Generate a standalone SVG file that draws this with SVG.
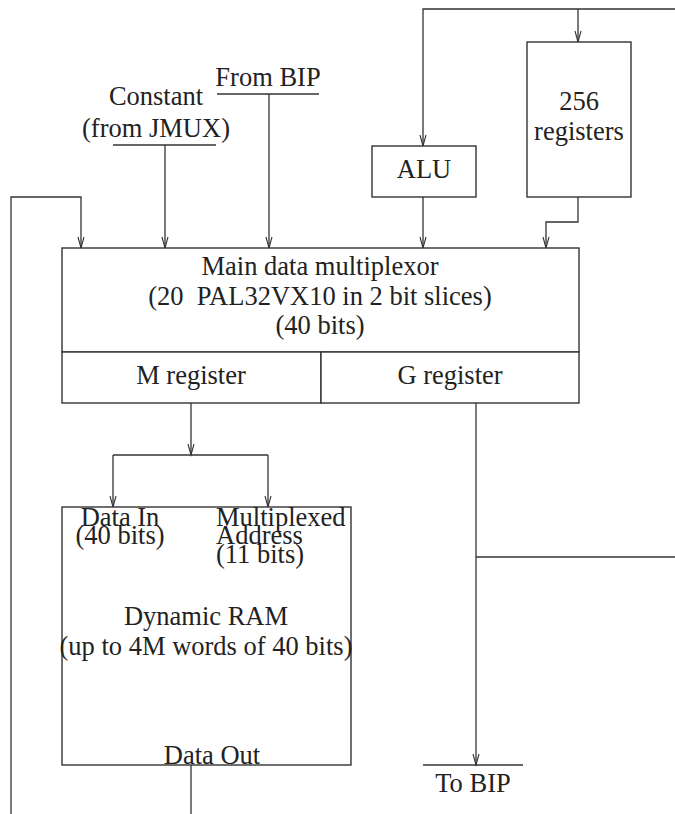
<svg xmlns="http://www.w3.org/2000/svg" width="675" height="814" viewBox="0 0 675 814">
<defs>
<marker id="arr" markerWidth="14" markerHeight="10" refX="12" refY="5" orient="auto" markerUnits="userSpaceOnUse" viewBox="0 0 14 10">
<path d="M1,2 L12,5 L1,8" fill="none" stroke="#333" stroke-width="1.1"/>
</marker>
</defs>
<style>
.b{fill:#fff;stroke:#333;stroke-width:1.4}
.l{fill:none;stroke:#333;stroke-width:1.3}
.t{font-family:"Liberation Serif","Times New Roman",serif;font-size:26.5px;fill:#222;text-anchor:middle}
.s{font-family:"Liberation Serif","Times New Roman",serif;font-size:26.5px;fill:#222}
</style>
<rect width="675" height="814" fill="#fff"/>
<g id="connectors">
<polyline class="l" points="11,814 11,197 81,197 81,248" marker-end="url(#arr)"/>
<line class="l" x1="165" y1="145" x2="165" y2="248" marker-end="url(#arr)"/>
<line class="l" x1="269" y1="94" x2="269" y2="248" marker-end="url(#arr)"/>
<polyline class="l" points="675,9 423,9 423,146" marker-end="url(#arr)"/>
<line class="l" x1="578" y1="9" x2="578" y2="42" marker-end="url(#arr)"/>
<line class="l" x1="423" y1="197" x2="423" y2="248" marker-end="url(#arr)"/>
<polyline class="l" points="578,197 578,222 546,222 546,248" marker-end="url(#arr)"/>
<line class="l" x1="191" y1="403" x2="191" y2="455" marker-end="url(#arr)"/>
<polyline class="l" points="113,455 268,455"/>
<line class="l" x1="113" y1="455" x2="113" y2="507" marker-end="url(#arr)"/>
<line class="l" x1="268" y1="455" x2="268" y2="507" marker-end="url(#arr)"/>
<line class="l" x1="476" y1="403" x2="476" y2="765" marker-end="url(#arr)"/>
<line class="l" x1="476" y1="557" x2="675" y2="557"/>
<line class="l" x1="191" y1="765" x2="191" y2="814"/>
</g>
<g id="from-bip">
<line class="l" x1="217" y1="94" x2="319" y2="94"/>
<text class="t" x="268" y="86">From BIP</text>
</g>
<g id="constant">
<line class="l" x1="113" y1="145" x2="216" y2="145"/>
<text class="t" x="156" y="105">Constant</text>
<text class="t" x="156" y="137">(from JMUX)</text>
</g>
<g id="alu">
<rect class="b" x="372" y="146" width="104" height="51"/>
<text class="t" x="424" y="178">ALU</text>
</g>
<g id="registers256">
<rect class="b" x="527" y="42" width="104" height="155"/>
<text class="t" x="579" y="110">256</text>
<text class="t" x="579" y="140">registers</text>
</g>
<g id="main-mux">
<rect class="b" x="62" y="248" width="517" height="104"/>
<text class="t" x="320" y="275">Main data multiplexor</text>
<text class="t" x="320" y="305" xml:space="preserve">(20  PAL32VX10 in 2 bit slices)</text>
<text class="t" x="320" y="334">(40 bits)</text>
</g>
<g id="m-register">
<rect class="b" x="62" y="352" width="259" height="51"/>
<text class="t" x="191" y="384">M register</text>
</g>
<g id="g-register">
<rect class="b" x="321" y="352" width="258" height="51"/>
<text class="t" x="450" y="384">G register</text>
</g>
<g id="dram">
<rect class="b" x="62" y="507" width="289" height="258"/>
<text class="t" x="120" y="526">Data In</text>
<text class="t" x="120" y="544">(40 bits)</text>
<text class="s" x="216" y="526">Multiplexed</text>
<text class="s" x="216" y="544">Address</text>
<text class="s" x="216" y="563">(11 bits)</text>
<text class="t" x="206" y="625">Dynamic RAM</text>
<text class="t" x="206" y="655">(up to 4M words of 40 bits)</text>
<text class="t" x="212" y="764">Data Out</text>
</g>
<g id="to-bip">
<line class="l" x1="423" y1="765" x2="523" y2="765"/>
<text class="t" x="473" y="792">To BIP</text>
</g>
</svg>
